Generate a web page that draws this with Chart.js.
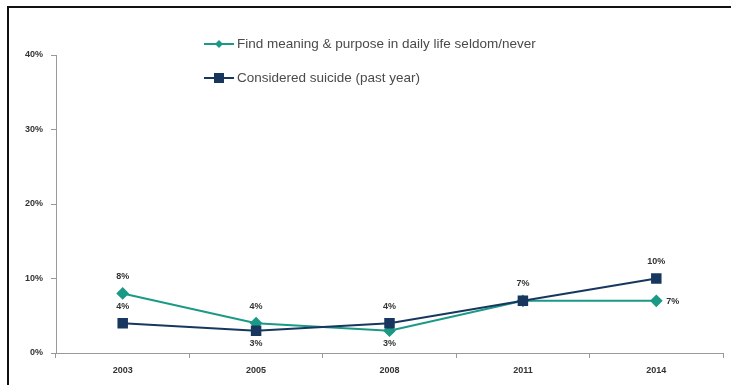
<!DOCTYPE html>
<html>
<head>
<meta charset="utf-8">
<script src="https://cdn.jsdelivr.net/npm/chart.js@4"></script>
<style>
  html, body { margin: 0; padding: 0; background: #fff; }
  #wrap { width: 731px; height: 385px; position: relative; }
</style>
</head>
<body>
<div id="wrap"><canvas id="chart" width="731" height="385"></canvas></div>
<script>
// chart values
const years = ['2003', '2005', '2008', '2011', '2014'];
const meaningSeldom = [8, 4, 3, 7, 7];
const consideredSuicide = [4, 3, 4, 7, 10];
const yTicks = [0, 10, 20, 30, 40];
const seriesNames = ['Find meaning & purpose in daily life seldom/never', 'Considered suicide (past year)'];

// where each value label sits relative to its point ('' = no label)
const meaningLabelPos = ['top', 'top', 'bottom', 'top', 'right'];
const suicideLabelPos = ['top', 'bottom', 'top', '', 'top'];

const TEAL = '#1a9a86';
const NAVY = '#17375e';
const FONT = '"Liberation Sans", Arial, sans-serif';

// black frame on the left and top, like the original export
const framePlugin = {
  id: 'frame',
  beforeDraw(chart) {
    const c = chart.ctx;
    c.save();
    c.strokeStyle = '#111';
    c.lineWidth = 2;
    c.beginPath();
    c.moveTo(8, 385);
    c.lineTo(8, 7);
    c.lineTo(731, 7);
    c.stroke();
    c.restore();
  }
};

// small value labels next to the points
const valueLabels = {
  id: 'valueLabels',
  afterDatasetsDraw(chart) {
    const c = chart.ctx;
    const positions = [meaningLabelPos, suicideLabelPos];
    c.save();
    c.font = 'bold 9px ' + FONT;
    c.fillStyle = '#333';
    chart.data.datasets.forEach((ds, i) => {
      chart.getDatasetMeta(i).data.forEach((pt, j) => {
        const pos = positions[i][j];
        if (!pos) return;
        const txt = ds.data[j] + '%';
        c.textBaseline = 'middle';
        if (pos === 'right') {
          c.textAlign = 'left';
          c.fillText(txt, pt.x + 10, pt.y + 1);
        } else if (pos === 'top') {
          c.textAlign = 'center';
          c.fillText(txt, pt.x, pt.y - 17);
        } else {
          c.textAlign = 'center';
          c.fillText(txt, pt.x, pt.y + 13);
        }
      });
    });
    c.restore();
  }
};

// stacked legend drawn inside the plot
const stackedLegend = {
  id: 'stackedLegend',
  afterDraw(chart) {
    const c = chart.ctx;
    const rows = [44, 78];
    c.save();
    chart.data.datasets.forEach((ds, i) => {
      const y = rows[i];
      c.strokeStyle = ds.borderColor;
      c.lineWidth = 2;
      c.beginPath();
      c.moveTo(204, y);
      c.lineTo(234, y);
      c.stroke();
      c.fillStyle = ds.pointBackgroundColor;
      if (ds.pointStyle === 'rectRot') {
        c.beginPath();
        c.moveTo(219, y - 4); c.lineTo(223, y); c.lineTo(219, y + 4); c.lineTo(215, y);
        c.closePath(); c.fill();
      } else {
        c.fillRect(214, y - 5, 10, 10);
      }
      c.font = '13.5px ' + FONT;
      c.fillStyle = '#4a4a4a';
      c.textAlign = 'left';
      c.textBaseline = 'middle';
      c.fillText(ds.label, 237, y);
    });
    c.restore();
  }
};

new Chart(document.getElementById('chart').getContext('2d'), {
  type: 'line',
  data: {
    labels: years,
    datasets: [{
      label: seriesNames[0],
      data: meaningSeldom,
      borderColor: TEAL,
      backgroundColor: TEAL,
      pointBackgroundColor: TEAL,
      pointBorderColor: TEAL,
      pointStyle: 'rectRot',
      pointRadius: 5,
      borderWidth: 2,
      tension: 0,
      order: 1
    }, {
      label: seriesNames[1],
      data: consideredSuicide,
      borderColor: NAVY,
      backgroundColor: NAVY,
      pointBackgroundColor: NAVY,
      pointBorderColor: NAVY,
      pointStyle: 'rect',
      pointRadius: 6,
      borderWidth: 2,
      tension: 0,
      order: 0
    }]
  },
  options: {
    responsive: false,
    animation: false,
    events: [],
    layout: { padding: { left: 0, right: 5, top: 55, bottom: 0 } },
    plugins: {
      legend: { display: false },
      tooltip: { enabled: false }
    },
    scales: {
      x: {
        offset: true,
        grid: { display: true, drawOnChartArea: false, offset: true, tickLength: 5, color: '#999' },
        border: { color: '#999', width: 1 },
        ticks: { font: { family: FONT, size: 9, weight: 'bold' }, color: '#333', padding: 7, maxRotation: 0 },
        afterFit(s) { s.height = 32; }
      },
      y: {
        min: 0,
        max: 40,
        afterBuildTicks(s) { s.ticks = yTicks.map(v => ({ value: v })); },
        grid: { display: true, drawOnChartArea: false, tickLength: 5, color: '#999' },
        border: { color: '#999', width: 1 },
        ticks: {
          font: { family: FONT, size: 9, weight: 'bold' },
          color: '#333',
          padding: 8,
          callback: v => v + '%'
        },
        afterFit(s) { s.width = 56; }
      }
    }
  },
  plugins: [framePlugin, valueLabels, stackedLegend]
});
</script>
</body>
</html>
